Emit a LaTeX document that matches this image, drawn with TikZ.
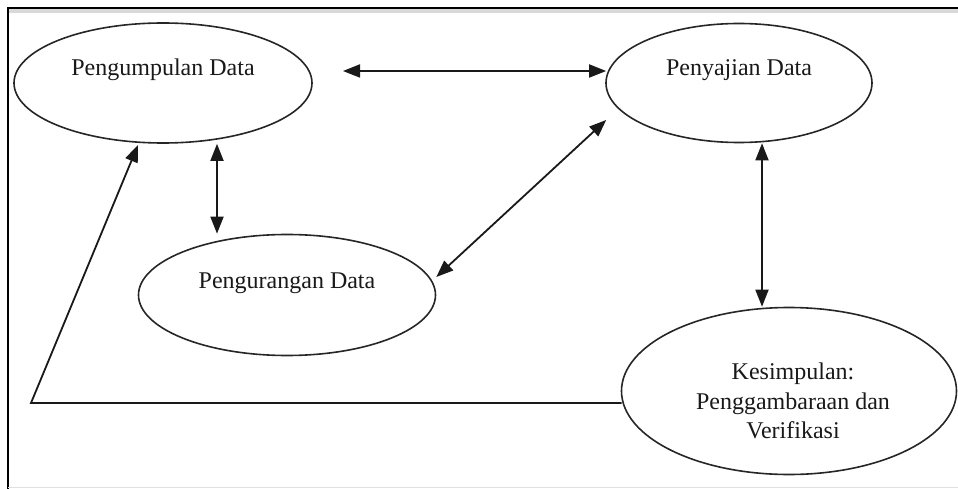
\documentclass[tikz,border=0pt]{standalone}
\usepackage{fontspec}
\setmainfont{Liberation Serif}
\usetikzlibrary{shapes.geometric,arrows.meta,calc}
\begin{document}
\begin{tikzpicture}[x=1pt,y=-1pt,
  oval/.style={draw=black!85,line width=1.6pt,ellipse,inner sep=0pt},
  lbl/.style={font=\fontsize{24}{29.5}\selectfont,text=black!90,align=center,inner sep=0pt},
  conn/.style={draw=black!90,line width=1.8pt},
  tip/.style={-{Triangle[length=17pt,width=13pt]}},
  dbl/.style={{Triangle[length=17pt,width=13pt]}-{Triangle[length=17pt,width=13pt]}}]
\useasboundingbox (0,0) rectangle (958,489);
% frame
\fill[black!15] (8,9) rectangle (958,13);
\draw[line width=2pt] (8,489) -- (8,8) -- (958,8);
\draw[black!12,line width=1pt] (8,487) -- (958,487);
% ellipses
\node[oval,minimum width=298pt,minimum height=120pt] (e1) at (163,83) {};
\node[oval,minimum width=266pt,minimum height=119pt] (e2) at (739,83) {};
\node[oval,minimum width=297pt,minimum height=121pt] (e3) at (287,295) {};
\node[oval,minimum width=335pt,minimum height=167pt] (e4) at (789,391) {};
% labels
\node[lbl] (t1) at (163,70) {Pengumpulan Data};
\node[lbl] (t2) at (739,70) {Penyajian Data};
\node[lbl] (t3) at (287,283) {Pengurangan Data};
\node[lbl] (t4) at (793,401) {Kesimpulan:\\Penggambaraan dan\\Verifikasi};
% connectors
\coordinate (h1) at (343,71);
\draw[conn,dbl] (h1) -- ($(e2.west)+(1,-12)$);
\draw[conn,dbl] (e1.south -| 217,0) -- (e3.north -| 217,0);
\draw[conn,dbl] ($(e2.west)+(1,37)$) -- ($(e3.east)+(0,-18)$);
\draw[conn,dbl] (e2.south -| 762,0) -- (e4.north -| 762,0);
\coordinate (c1) at (31,403);
\draw[conn,tip] ($(e4.west)+(1,12)$) -- (c1) -- (138,145);
\end{tikzpicture}
\end{document}
